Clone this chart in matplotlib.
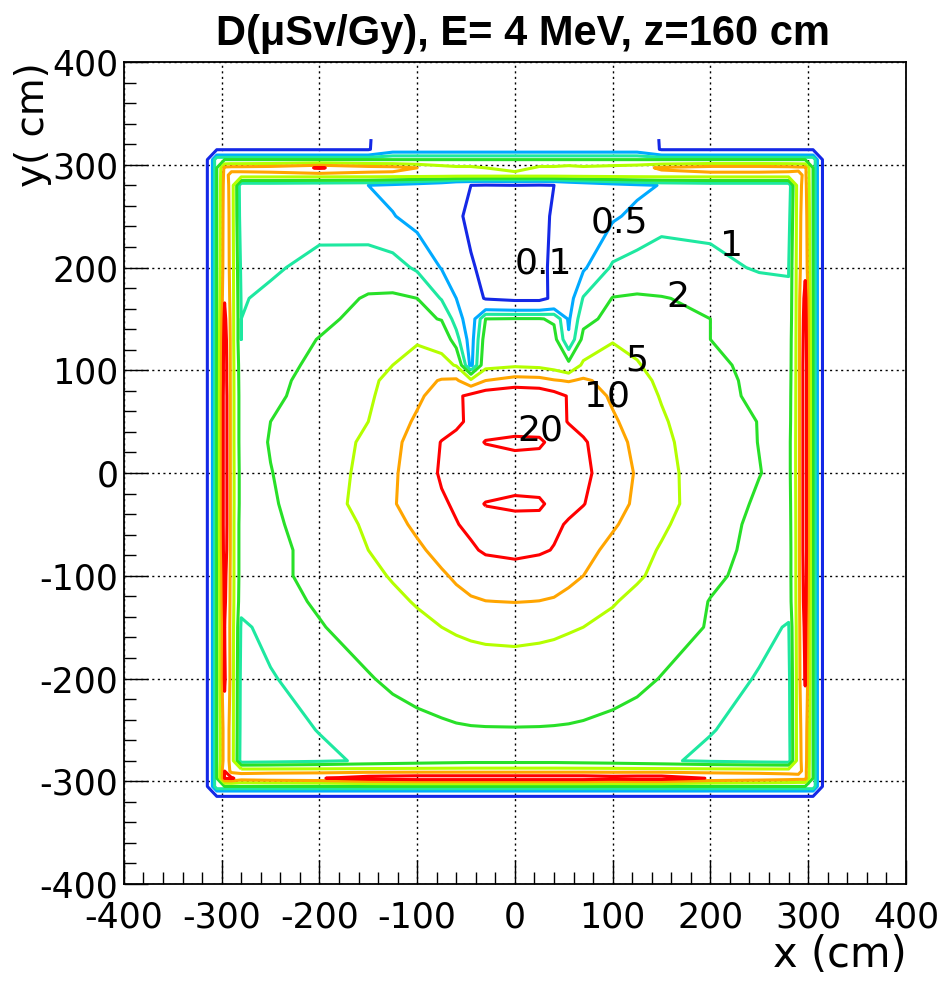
import numpy as np
import matplotlib.pyplot as plt
from matplotlib.ticker import MultipleLocator

plt.rcParams["axes.unicode_minus"] = False

# dose levels drawn as contour lines (uSv/Gy)
levels = [0.1, 0.5, 1, 2, 5, 10, 20]
level_labels = ["0.1", "0.5", "1", "2", "5", "10", "20"]
label_x = [29, 107, 222, 167, 125, 94, 26]
label_y = [204, 244, 221, 171, 110, 74, 41]
line_colors = ["#1428e6", "#00aaff", "#1ee8a0", "#28e028", "#b4ff00", "#ffa500", "#ff0000"]

# interior grid nodes (cm)
x_in = [-280, -250, -200, -150, -125, -100, -75, -60, -45, -30, 0, 25, 40, 55, 70, 100, 125, 150, 200, 250, 280]
y_in = [-280, -250, -200, -150, -125, -100, -75, -50, -30, 0, 30, 50, 75, 90, 105, 130, 150, 170, 200, 250, 280]

# dose, one row per y_in value (bottom to top)
dose_in = [
    [0.7, 0.75, 0.88, 1.1, 1.2, 1.3, 1.4, 1.45, 1.5, 1.5, 1.5, 1.5, 1.5, 1.45, 1.4, 1.3, 1.2, 1.1, 0.88, 0.75, 0.7],
    [0.75, 0.8, 1.02, 1.3, 1.45, 1.6, 1.75, 1.85, 1.9, 1.92, 1.93, 1.92, 1.9, 1.87, 1.8, 1.65, 1.5, 1.35, 1.03, 0.8, 0.75],
    [0.8, 0.95, 1.35, 1.9, 2.3, 2.7, 3.1, 3.3, 3.5, 3.6, 3.7, 3.6, 3.5, 3.3, 3.2, 2.7, 2.35, 1.95, 1.35, 0.95, 0.8],
    [0.9, 1.2, 1.9, 2.8, 3.4, 4.2, 5.0, 5.4, 5.7, 5.9, 6.0, 5.8, 5.6, 5.3, 5.0, 4.1, 3.4, 2.75, 1.9, 1.2, 0.95],
    [1.2, 1.5, 2.2, 3.4, 4.3, 5.3, 7.0, 8.3, 9.3, 9.9, 10.2, 9.9, 9.5, 8.5, 7.5, 5.3, 4.1, 3.2, 1.95, 1.45, 1.25],
    [1.3, 1.6, 2.6, 4.2, 5.3, 7.0, 9.2, 11, 13, 14.5, 15.5, 14.5, 13, 11.5, 10, 7.2, 5.5, 4.1, 2.3, 1.55, 1.3],
    [1.3, 1.6, 2.6, 5.0, 6.6, 8.9, 12.3, 15, 18.5, 21.5, 23, 21.5, 19.5, 15.4, 12.4, 8.4, 6.3, 4.7, 2.7, 1.55, 1.3],
    [1.3, 1.7, 3.0, 5.7, 8.1, 11.4, 16, 19.5, 22.5, 25, 27, 25, 22, 19, 15.6, 10.8, 7.8, 5.6, 3.0, 1.6, 1.35],
    [1.4, 1.8, 3.4, 6.7, 9.5, 13.3, 18.6, 21.5, 24, 19.5, 17, 18, 24, 23, 20.5, 12.9, 8.9, 6.4, 3.3, 1.76, 1.4],
    [1.4, 1.95, 3.3, 6.3, 9.1, 14, 21.5, 25, 28, 30, 31, 30, 29, 26, 23, 14.3, 9.4, 6.2, 3.4, 2.05, 1.5],
    [1.3, 2.1, 3.4, 5.7, 8.5, 13, 20.5, 23, 24, 19.5, 17, 18, 24, 25, 21.5, 12.9, 8.5, 5.8, 3.3, 1.96, 1.5],
    [1.3, 2.0, 3.1, 5.0, 7.5, 11, 15, 18.2, 22, 26, 30, 28, 24, 19.5, 16.2, 10.9, 7.7, 5.4, 3.1, 1.95, 1.4],
    [1.3, 1.7, 2.8, 4.6, 6.3, 8.9, 13.3, 17.3, 24, 30, 35, 32, 26, 19, 14.5, 9.1, 6.6, 4.8, 2.8, 1.64, 1.35],
    [1.25, 1.6, 2.7, 4.45, 5.8, 7.9, 10.5, 11, 6, 10, 13, 12.5, 10.5, 9.5, 11, 8.0, 5.9, 4.5, 2.7, 1.6, 1.3],
    [1.2, 1.5, 2.4, 3.9, 5.0, 5.8, 6.0, 4.8, 0.4, 4.0, 4.5, 4.2, 3.6, 2.5, 5.8, 6.5, 5.2, 4.1, 2.45, 1.55, 1.25],
    [1.0, 1.4, 2.05, 3.5, 4.2, 4.8, 4.0, 1.3, 0.35, 3.0, 3.3, 3.3, 2.6, 0.55, 2.5, 4.8, 4.3, 3.5, 2.0, 1.5, 1.2],
    [1.0, 1.25, 1.7, 2.5, 2.6, 2.5, 1.9, 0.75, 0.3, 2.0, 2.1, 2.1, 1.8, 0.45, 1.6, 2.5, 2.6, 2.5, 2.0, 1.4, 1.1],
    [0.95, 1.15, 1.6, 2.1, 2.2, 2.0, 0.95, 0.5, 0.2, 0.09, 0.07, 0.07, 0.13, 0.35, 1.05, 2.05, 2.15, 2.05, 1.8, 1.3, 1.05],
    [0.85, 0.9, 1.25, 1.5, 1.3, 0.9, 0.48, 0.3, 0.11, 0.08, 0.07, 0.08, 0.12, 0.25, 0.45, 1.1, 1.3, 1.4, 1.15, 0.95, 0.98],
    [0.65, 0.7, 0.75, 0.6, 0.52, 0.38, 0.22, 0.12, 0.08, 0.07, 0.08, 0.08, 0.11, 0.18, 0.28, 0.45, 0.6, 0.8, 0.85, 0.8, 0.75],
    [0.6, 0.6, 0.55, 0.5, 0.4, 0.3, 0.2, 0.12, 0.1, 0.09, 0.1, 0.09, 0.1, 0.15, 0.2, 0.32, 0.42, 0.52, 0.6, 0.6, 0.6],
]

# wall: nodes outside the interior, distance from centre (cm)
wall_outer_at = [325, 315, 305]
wall_outer_dose = [0.01, 0.09, 2.0]
wall_peak_at = 297
wall_face_at = 290
wall_face_dose = 8.0

# dose at the middle of each wall, along the wall (from -297 to 297)
peak_left = [21, 20, 15, 15, 22, 20, 23, 25, 30, 32, 32, 32, 32, 32, 32, 30, 30, 28, 24, 19, 16, 15, 14, 13, 12]
peak_right = [13, 13, 14, 15, 21, 24, 28, 30, 32, 32, 32, 32, 32, 32, 32, 32, 32, 30, 28, 25, 17, 15, 13, 12, 12]
peak_bottom = [21, 22, 15, 17, 19, 28, 30, 32, 32, 32, 32, 32, 32, 32, 32, 32, 32, 28, 30, 30, 19, 16, 14, 13, 13]
peak_top = [12, 13, 13, 14, 21, 14, 13, 10, 7, 6, 6, 5, 3, 6, 6, 7, 6, 7, 8, 11, 14, 14, 13, 12, 12]

# above the top wall the dose stays higher in the middle (rows y=315 and y=325)
top_skin = [0.09, 0.09, 0.09, 0.09, 0.09, 0.09, 0.09, 0.09, 0.3, 0.3, 0.3, 0.3, 0.3, 0.3, 0.3,
            0.3, 0.3, 0.3, 0.3, 0.3, 0.3, 0.09, 0.09, 0.09, 0.09, 0.09, 0.09, 0.09, 0.09]
top_edge = [0.095, 0.095, 0.095, 0.095, 0.095, 0.095, 0.095, 0.095, 0.095, 0.15, 0.15, 0.15, 0.15, 0.15, 0.15, 0.15,
            0.15, 0.15, 0.15, 0.15, 0.15, 0.15, 0.095, 0.095, 0.095, 0.095, 0.095, 0.095, 0.095, 0.095, 0.095]


def node_list(inner):
    out = [-d for d in wall_outer_at] + [-wall_peak_at, -wall_face_at]
    return np.array(out + inner + [wall_face_at, wall_peak_at] + wall_outer_at[::-1])


xs = node_list(x_in)
ys = node_list(y_in)

Z = np.full((len(ys), len(xs)), wall_outer_dose[0])
Z[1:-1, 1:-1] = wall_outer_dose[1]
Z[-2, 1:-1] = top_skin
Z[-1, :] = top_edge
Z[2:-2, 2:-2] = wall_outer_dose[2]
Z[3, 3:-3] = peak_bottom
Z[-4, 3:-3] = peak_top
Z[3:-3, 3] = peak_left
Z[3:-3, -4] = peak_right
Z[4:-4, 4:-4] = wall_face_dose
Z[5:-5, 5:-5] = np.array(dose_in)

fig = plt.figure(figsize=(9.46, 9.86), dpi=100)
ax = fig.add_axes([0.131, 0.1034, 0.8266, 0.8337])

ax.contour(xs, ys, np.log10(Z), levels=np.log10(levels), colors=line_colors,
           linewidths=2.2, zorder=3)

for txt, lx, ly in zip(level_labels, label_x, label_y):
    ax.text(lx, ly, txt, fontsize=26, ha="center", va="center", zorder=4,
            family="DejaVu Sans")

ax.set_xlim(-400, 400)
ax.set_ylim(-400, 400)
ax.xaxis.set_major_locator(MultipleLocator(100))
ax.yaxis.set_major_locator(MultipleLocator(100))
ax.xaxis.set_minor_locator(MultipleLocator(20))
ax.yaxis.set_minor_locator(MultipleLocator(20))
ax.tick_params(which="both", direction="in", top=False, right=False, width=1.0)
ax.tick_params(which="major", length=17, labelsize=25)
ax.tick_params(axis="x", which="major", pad=12)
ax.tick_params(axis="y", which="major", pad=4)
ax.tick_params(which="minor", length=8.5)
ax.grid(True, which="major", color="black", linestyle=(0, (1.5, 2.5)), linewidth=1.0, zorder=1)
ax.set_axisbelow(True)
for s in ax.spines.values():
    s.set_linewidth(1.3)

fig.text(0.553, 0.966, "D(\u03bcSv/Gy), E= 4 MeV, z=160 cm", fontsize=30, fontweight="bold",
         family=["Liberation Sans", "DejaVu Sans"], ha="center", va="center")
fig.text(0.958, 0.010, "x (cm)", fontsize=30, ha="right", va="bottom")
fig.text(0.035, 0.937, "y( cm)", fontsize=28, rotation=90, ha="center", va="top")

fig.savefig("out.png", dpi=100)
